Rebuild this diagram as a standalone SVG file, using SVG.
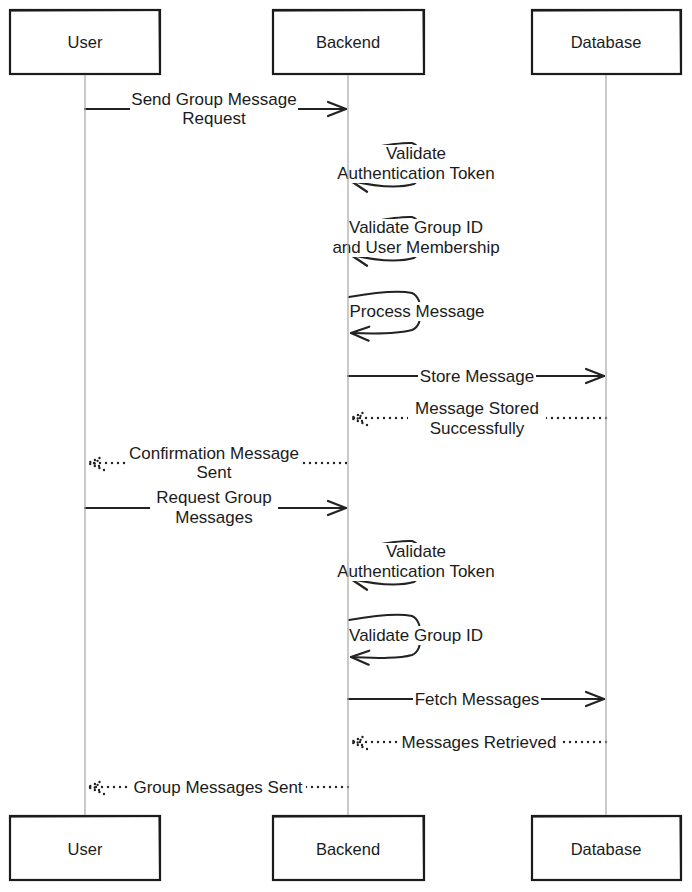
<svg xmlns="http://www.w3.org/2000/svg" width="692" height="892" viewBox="0 0 692 892">
<style>
.bg{fill:#ffffff}
.box{fill:#ffffff;stroke:#1b1b1b;stroke-width:2.2}
.box2{fill:none;stroke:#1b1b1b;stroke-width:0.8;opacity:0.7}
.life{stroke:#a6a6a6;stroke-width:1.2;fill:none}
.msg{stroke:#222;stroke-width:2;fill:none;stroke-linecap:round}
.dot{stroke:#222;stroke-width:2.4;fill:none;stroke-linecap:round;stroke-dasharray:0 6}
.lb{fill:#ffffff}
text{font-family:"Liberation Sans",Arial,sans-serif;font-size:17px;fill:#1b1b1b;text-anchor:middle}
text.nl{font-size:16.5px}
</style>
<defs>
<marker id="ah" viewBox="0 0 22 18" refX="20" refY="9" markerWidth="22" markerHeight="18" markerUnits="userSpaceOnUse" orient="auto">
<path d="M2,2 L20,9 L2,16" fill="none" stroke="#222" stroke-width="2.2" stroke-linecap="round" stroke-linejoin="round"/>
</marker>
<marker id="dh" viewBox="0 0 22 18" refX="20" refY="9" markerWidth="22" markerHeight="18" markerUnits="userSpaceOnUse" orient="auto">
<path d="M4,2 L20,9 L4,16 M9,6 L14,9 L9,12" fill="none" stroke="#222" stroke-width="2.4" stroke-linecap="round" stroke-dasharray="0 5"/>
</marker>
</defs>
<rect class="bg" x="0" y="0" width="692" height="892"/>

<g id="node-user-top">
<rect class="box" x="10" y="10" width="150" height="64"/>
<path class="box2" d="M11,11.5 L159,10.5 M158.5,11 L159.5,73 M160,73.5 L10.5,74.5"/>
<text class="nl" x="85" y="48">User</text>
</g>
<g id="node-backend-top">
<rect class="box" x="273" y="10" width="151" height="64"/>
<path class="box2" d="M274,11.5 L423,10.5 M422.5,11 L423.5,73 M424,73.5 L273.5,74.5"/>
<text class="nl" x="348" y="48">Backend</text>
</g>
<g id="node-database-top">
<rect class="box" x="532" y="10" width="149" height="64"/>
<path class="box2" d="M533,11.5 L680,10.5 M679.5,11 L680.5,73 M681,73.5 L532.5,74.5"/>
<text class="nl" x="606" y="48">Database</text>
</g>
<g id="node-user-bottom">
<rect class="box" x="10" y="816" width="150" height="64"/>
<path class="box2" d="M11,817.5 L159,816.5 M158.5,817 L159.5,879 M160,879.5 L10.5,880.5"/>
<text class="nl" x="85" y="855">User</text>
</g>
<g id="node-backend-bottom">
<rect class="box" x="273" y="816" width="151" height="64"/>
<path class="box2" d="M274,817.5 L423,816.5 M422.5,817 L423.5,879 M424,879.5 L273.5,880.5"/>
<text class="nl" x="348" y="855">Backend</text>
</g>
<g id="node-database-bottom">
<rect class="box" x="532" y="816" width="149" height="64"/>
<path class="box2" d="M533,817.5 L680,816.5 M679.5,817 L680.5,879 M681,879.5 L532.5,880.5"/>
<text class="nl" x="606" y="855">Database</text>
</g>

<g id="connectors">
<!-- 1 -->
<line class="msg" x1="85" y1="109" x2="346" y2="109" marker-end="url(#ah)"/>
<rect class="lb" x="130" y="89" width="168" height="38"/>
<text x="214" y="105">Send Group Message</text>
<text x="214" y="124">Request</text>

<!-- 2 self -->
<path class="msg" d="M349,151 C372,148 396,142 412,143 C424,146 426,176 414,184 C400,188 378,187 351,181" marker-end="url(#ah)"/>
<rect class="lb" x="332" y="145" width="170" height="38"/>
<text x="416" y="159">Validate</text>
<text x="416" y="179">Authentication Token</text>

<!-- 3 self -->
<path class="msg" d="M349,225 C372,222 396,216 412,217 C424,220 426,250 414,258 C400,262 378,261 351,255" marker-end="url(#ah)"/>
<rect class="lb" x="332" y="219" width="170" height="38"/>
<text x="416" y="233">Validate Group ID</text>
<text x="416" y="253">and User Membership</text>

<!-- 4 self -->
<path class="msg" d="M349,297 C372,293 398,290 412,293 C424,298 424,326 412,330 C398,334 378,334 351,333" marker-end="url(#ah)"/>
<rect class="lb" x="351" y="302" width="134" height="19"/>
<text x="417" y="317">Process Message</text>

<!-- 5 -->
<line class="msg" x1="348" y1="376" x2="604" y2="376" marker-end="url(#ah)"/>
<rect class="lb" x="418" y="367" width="118" height="19"/>
<text x="477" y="382">Store Message</text>

<!-- 6 -->
<line class="dot" x1="606" y1="418" x2="351" y2="418" marker-end="url(#dh)"/>
<rect class="lb" x="408" y="398" width="138" height="38"/>
<text x="477" y="414">Message Stored</text>
<text x="477" y="434">Successfully</text>

<!-- 7 -->
<line class="dot" x1="346" y1="463" x2="88" y2="463" marker-end="url(#dh)"/>
<rect class="lb" x="126" y="443" width="176" height="38"/>
<text x="214" y="459">Confirmation Message</text>
<text x="214" y="478">Sent</text>

<!-- 8 -->
<line class="msg" x1="85" y1="508" x2="346" y2="508" marker-end="url(#ah)"/>
<rect class="lb" x="150" y="488" width="128" height="38"/>
<text x="214" y="503">Request Group</text>
<text x="214" y="523">Messages</text>

<!-- 9 self -->
<path class="msg" d="M349,549 C372,546 396,540 412,541 C424,544 426,574 414,582 C400,586 378,585 351,579" marker-end="url(#ah)"/>
<rect class="lb" x="332" y="543" width="170" height="38"/>
<text x="416" y="557">Validate</text>
<text x="416" y="577">Authentication Token</text>

<!-- 10 self -->
<path class="msg" d="M349,620 C372,616 398,613 412,616 C424,621 424,651 412,655 C398,659 378,658 351,657" marker-end="url(#ah)"/>
<rect class="lb" x="343" y="626" width="146" height="19"/>
<text x="416" y="641">Validate Group ID</text>

<!-- 11 -->
<line class="msg" x1="348" y1="699" x2="604" y2="699" marker-end="url(#ah)"/>
<rect class="lb" x="413" y="690" width="128" height="19"/>
<text x="477" y="705">Fetch Messages</text>

<!-- 12 -->
<line class="dot" x1="606" y1="742" x2="351" y2="742" marker-end="url(#dh)"/>
<rect class="lb" x="399" y="733" width="160" height="19"/>
<text x="479" y="748">Messages Retrieved</text>

<!-- 13 -->
<line class="dot" x1="348" y1="787" x2="88" y2="787" marker-end="url(#dh)"/>
<rect class="lb" x="130" y="778" width="176" height="19"/>
<text x="218" y="793">Group Messages Sent</text>
</g>

<g id="lifelines">
<line class="life" x1="85" y1="75" x2="85" y2="815"/>
<line class="life" x1="348" y1="75" x2="348" y2="815"/>
<line class="life" x1="606" y1="75" x2="606" y2="815"/>
</g>
</svg>
